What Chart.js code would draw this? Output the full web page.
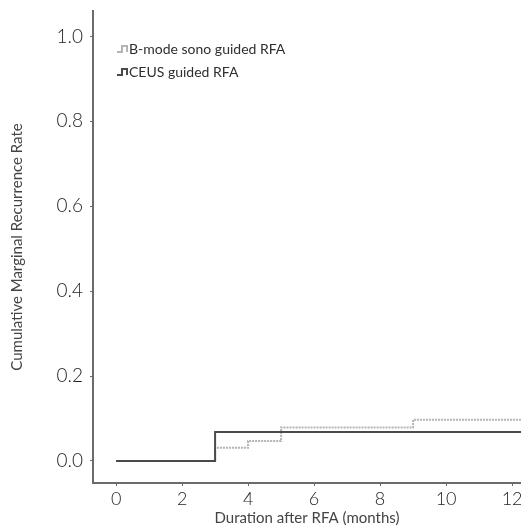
<!DOCTYPE html>
<html>
<head>
<meta charset="utf-8">
<script src="https://cdn.jsdelivr.net/npm/chart.js@4.4.1/dist/chart.umd.min.js"></script>
<style>
  html, body { margin: 0; padding: 0; background: #fff; }
  #wrap { width: 521px; height: 528px; position: relative; }
</style>
</head>
<body>
<div id="wrap"><canvas id="c" width="521" height="528"></canvas></div>
<script>
// ---- data ----
const seriesNames = ["B-mode sono guided RFA", "CEUS guided RFA"];
const bmodeTimes  = [0, 3, 4, 5, 9, 13];
const bmodeRates  = [0, 0.031, 0.047, 0.079, 0.097, 0.097];
const ceusTimes   = [0, 3, 13];
const ceusRates   = [0, 0.068, 0.068];
const xTickValues = [0, 2, 4, 6, 8, 10, 12];
const yTickValues = [0.0, 0.2, 0.4, 0.6, 0.8, 1.0];
const xTitle = "Duration after RFA (months)";
const yTitle = "Cumulative Marginal Recurrence Rate";

const FONT = "Lato, 'Open Sans', sans-serif";
const TICK_TEXT = "#1e1e1e";
const TITLE_TEXT = "#444444";
const LEGEND_TEXT = "#2e2e2e";
const AXIS = "#6a6a6a";
const colors = ["#b4b4b4", "#4a4a4a"];

const toPts = (xs, ys) => xs.map((x, i) => ({ x, y: ys[i] }));

const legendPlugin = {
  id: 'stepLegend',
  afterDraw(chart) {
    const ctx = chart.ctx;
    const area = chart.chartArea;
    const x0 = area.left + 24, y0 = 49, gap = 23;
    ctx.save();
    ctx.font = "14px " + FONT;
    ctx.textBaseline = "middle";
    chart.data.datasets.forEach((ds, i) => {
      const y = y0 + i * gap;
      ctx.strokeStyle = ds.borderColor;
      ctx.lineWidth = 2;
      ctx.beginPath();
      ctx.moveTo(x0, y + 3);
      ctx.lineTo(x0 + 5, y + 3);
      ctx.lineTo(x0 + 5, y - 3);
      ctx.lineTo(x0 + 10, y - 3);
      ctx.lineTo(x0 + 10, y + 3);
      ctx.stroke();
      ctx.fillStyle = LEGEND_TEXT;
      ctx.fillText(ds.label, x0 + 12, y);
    });
    ctx.restore();
  }
};

new Chart(document.getElementById('c'), {
  type: 'line',
  data: {
    datasets: [
      { label: seriesNames[0], data: toPts(bmodeTimes, bmodeRates), stepped: true,
        borderColor: colors[0], borderWidth: 2, borderDash: [2, 1], pointRadius: 0, fill: false, order: 1 },
      { label: seriesNames[1], data: toPts(ceusTimes, ceusRates), stepped: true,
        borderColor: colors[1], borderWidth: 2, pointRadius: 0, fill: false, order: 0 }
    ]
  },
  options: {
    responsive: false,
    animation: false,
    devicePixelRatio: 1,
    layout: { padding: { top: 11, right: 0, bottom: 0, left: 0 } },
    plugins: { legend: { display: false }, tooltip: { enabled: false } },
    scales: {
      x: {
        type: 'linear',
        min: -0.7, max: 12.27,
        afterBuildTicks: s => { s.ticks = xTickValues.map(v => ({ value: v })); },
        afterFit: s => { s.height = 45; s.paddingLeft = 0; s.paddingRight = 0; },
        border: { display: true, color: AXIS, width: 2 },
        grid: { drawOnChartArea: false, drawTicks: true, tickLength: 3, color: AXIS, lineWidth: 1 },
        ticks: { color: TICK_TEXT, font: { family: FONT, size: 18, weight: '300' }, padding: 2, maxRotation: 0, autoSkip: false },
        title: { display: true, text: xTitle, color: TITLE_TEXT, font: { family: FONT, size: 15 }, padding: { top: 0, bottom: 1 } }
      },
      y: {
        type: 'linear',
        min: -0.052, max: 1.06,
        afterBuildTicks: s => { s.ticks = yTickValues.map(v => ({ value: v })); },
        afterFit: s => { s.width = 93; s.paddingTop = 0; s.paddingBottom = 0; },
        border: { display: true, color: AXIS, width: 2 },
        grid: { drawOnChartArea: false, drawTicks: true, tickLength: 3, color: AXIS, lineWidth: 1 },
        ticks: { color: TICK_TEXT, font: { family: FONT, size: 19, weight: '300' }, padding: 7, callback: v => v.toFixed(1) },
        title: { display: true, text: yTitle, color: TITLE_TEXT, font: { family: FONT, size: 15 }, padding: { top: 8, bottom: 0 } }
      }
    }
  },
  plugins: [legendPlugin]
});
</script>
</body>
</html>
